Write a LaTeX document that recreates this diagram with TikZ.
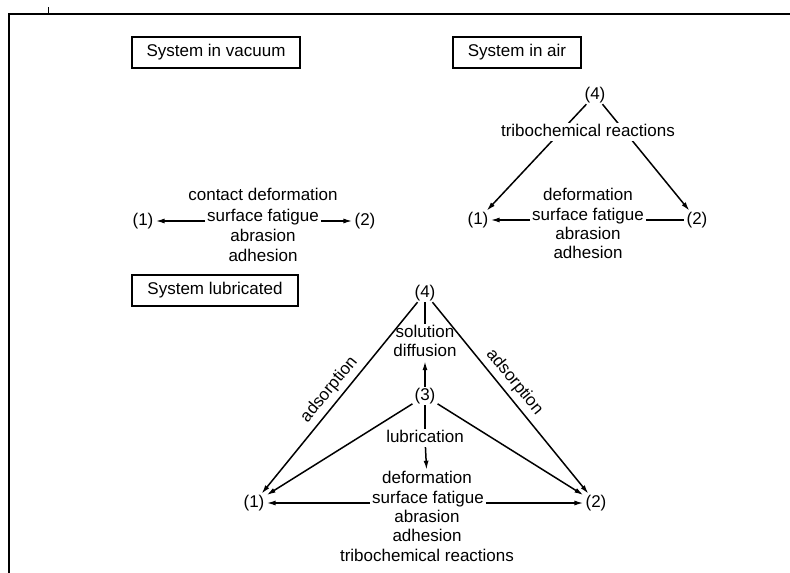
\documentclass[tikz,border=0pt]{standalone}
\usepackage{fontspec}
\setmainfont{Liberation Sans}
\usetikzlibrary{arrows.meta, backgrounds}
\newcommand{\lblfont}{\fontsize{17}{19.5}\selectfont}
\tikzset{
  lbl/.style={font=\lblfont, inner sep=2pt, text height=11pt, text depth=3pt},
  sysbox/.style={draw, line width=2pt, font=\lblfont, inner xsep=15pt,
                 minimum height=31pt},
  conn/.style={line width=1.5pt},
  connarr/.style={conn, -{Latex[length=9pt,width=5pt]}}
}

\begin{document}
\begin{tikzpicture}[x=1pt, y=-1pt]
    \useasboundingbox (0,0) rectangle (790,573);

    % frame of the scanned page
    \draw[line width=2.2pt] (9,573) -- (9,14) -- (790,14);
    \draw[line width=1pt] (48,7) -- (48,14);

    % headings
    \node[sysbox] (vacbox) at (216,52) {System in vacuum};
    \node[sysbox] (airbox) at (517,52) {System in air};
    \node[sysbox] (lubbox) at (215,290) {System lubricated};

    % system in vacuum
    \node[lbl] (vcon)  at (263,196) {contact deformation};
    \node[lbl] (vsurf) at (263,217) {surface fatigue};
    \node[lbl] (vabr)  at (263,237) {abrasion};
    \node[lbl] (vadh)  at (263,257) {adhesion};
    \node[lbl] (v1) at (143,221) {(1)};
    \node[lbl] (v2) at (365,221) {(2)};
    \draw[connarr] (vsurf.base west) -- (v1);
    \draw[connarr] (vsurf.base east) -- (v2);

    % system in air
    \node[lbl] (a4) at (595,95) {(4)};
    \node[lbl, fill=white] (atri) at (588,132) {tribochemical reactions};
    \node[lbl] (adef)  at (588,196) {deformation};
    \node[lbl] (asurf) at (588,216) {surface fatigue};
    \node[lbl] (aabr)  at (588,235) {abrasion};
    \node[lbl] (aadh)  at (588,254) {adhesion};
    \node[lbl] (a1) at (478,220) {(1)};
    \node[lbl] (a2) at (697,220) {(2)};
    \draw[connarr] (asurf.base west) -- (a1);
    \draw[conn] (asurf.base east) -- (a2);

    % system lubricated
    \node[lbl] (l4)    at (425,293) {(4)};
    \node[lbl] (lsol)  at (425,333) {solution};
    \node[lbl] (ldif)  at (425,352) {diffusion};
    \node[lbl] (l3)    at (425,396) {(3)};
    \node[lbl] (llub)  at (425,438) {lubrication};
    \node[lbl] (ldef)  at (427,479) {deformation};
    \node[lbl] (lsurf) at (428,499) {surface fatigue};
    \node[lbl] (labr)  at (427,518) {abrasion};
    \node[lbl] (ladh)  at (427,537) {adhesion};
    \node[lbl] (ltri)  at (427,557) {tribochemical reactions};
    \node[lbl] (l1) at (254,503) {(1)};
    \node[lbl] (l2) at (596,503) {(2)};

    \draw[conn] (l4) -- (lsol);
    \draw[connarr] (l3) -- (ldif);
    \draw[conn] (l3) -- (llub);
    \draw[connarr] (llub) -- (ldef);
    \draw[connarr] (l4) -- node[lbl, sloped, above=3pt] {adsorption} (l1);
    \draw[connarr] (l4) -- node[lbl, sloped, above=3pt, pos=0.46] {adsorption} (l2);
    \draw[connarr] (l3) -- (l1);
    \draw[connarr] (l3) -- (l2);
    \draw[connarr] (lsurf.base west) -- (l1);
    \draw[connarr] (lsurf.base east) -- (l2);

    \begin{scope}[on background layer]
        \fill[white] (0,0) rectangle (790,573);
        % lines behind the tribochemical label
        \draw[connarr] (a4) -- (a1);
        \draw[connarr] (a4) -- (a2);
    \end{scope}
\end{tikzpicture}
\end{document}
